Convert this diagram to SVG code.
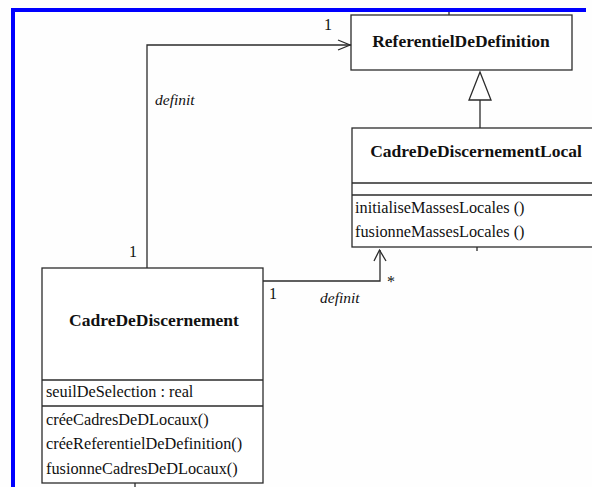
<svg xmlns="http://www.w3.org/2000/svg" width="592" height="487" viewBox="0 0 592 487">
<style>
.box{fill:#ffffff;stroke:#2b2b2b;stroke-width:1.3}
.ln{fill:none;stroke:#2b2b2b;stroke-width:1.3}
text{font-family:'Liberation Serif','Times New Roman','DejaVu Serif',serif;fill:#111}
.name{font-weight:bold;font-size:17.5px;text-anchor:middle}
.mem{font-size:16.3px}
.lbl{font-style:italic;font-size:15.5px}
.mult{font-size:16px}
</style>
<rect x="0" y="0" width="592" height="487" fill="#fefefe"/>
<rect x="11" y="8" width="575" height="4" fill="#0000ff"/>
<rect x="11" y="8" width="4" height="479" fill="#0000ff"/>
<g id="ReferentielDeDefinition">
<line class="ln" x1="449" y1="12" x2="449" y2="15"/>
<rect class="box" x="351" y="15" width="221" height="55"/>
<text class="name" x="461" y="47">ReferentielDeDefinition</text>
</g>
<g id="CadreDeDiscernementLocal">
<rect class="box" x="352" y="128" width="250" height="119"/>
<line class="ln" x1="352" y1="183" x2="602" y2="183"/>
<line class="ln" x1="352" y1="195" x2="602" y2="195"/>
<text class="name" x="476" y="157">CadreDeDiscernementLocal</text>
<text class="mem" x="355" y="213">initialiseMassesLocales ()</text>
<text class="mem" x="355" y="237">fusionneMassesLocales ()</text>
<line class="ln" x1="477" y1="247" x2="477" y2="251"/>
</g>
<g id="CadreDeDiscernement">
<rect class="box" x="42" y="268" width="221" height="215"/>
<line class="ln" x1="42" y1="380" x2="263" y2="380"/>
<line class="ln" x1="42" y1="406" x2="263" y2="406"/>
<text class="name" x="154" y="326">CadreDeDiscernement</text>
<text class="mem" x="46" y="397">seuilDeSelection : real</text>
<text class="mem" x="46" y="425">créeCadresDeDLocaux()</text>
<text class="mem" x="46" y="449">créeReferentielDeDefinition()</text>
<text class="mem" x="46" y="474">fusionneCadresDeDLocaux()</text>
<line class="ln" x1="135" y1="483" x2="135" y2="487"/>
</g>
<g id="connectors">
<polyline class="ln" points="147,268 147,45 351,45"/>
<polyline class="ln" points="338,40 350,45 338,50"/>
<text class="mult" x="324" y="30">1</text>
<text class="lbl" x="155" y="105">definit</text>
<text class="mult" x="129" y="257">1</text>
<polygon fill="#ffffff" stroke="#2b2b2b" stroke-width="1.3" points="480,72 469,100 491,100"/>
<line class="ln" x1="480" y1="100" x2="480" y2="128"/>
<polyline class="ln" points="263,281 380,281 380,250"/>
<polyline class="ln" points="374,261 379.5,250 386,261"/>
<text class="mult" x="387" y="287">*</text>
<text class="mult" x="269" y="299">1</text>
<text class="lbl" x="320" y="303">definit</text>
</g>
</svg>
